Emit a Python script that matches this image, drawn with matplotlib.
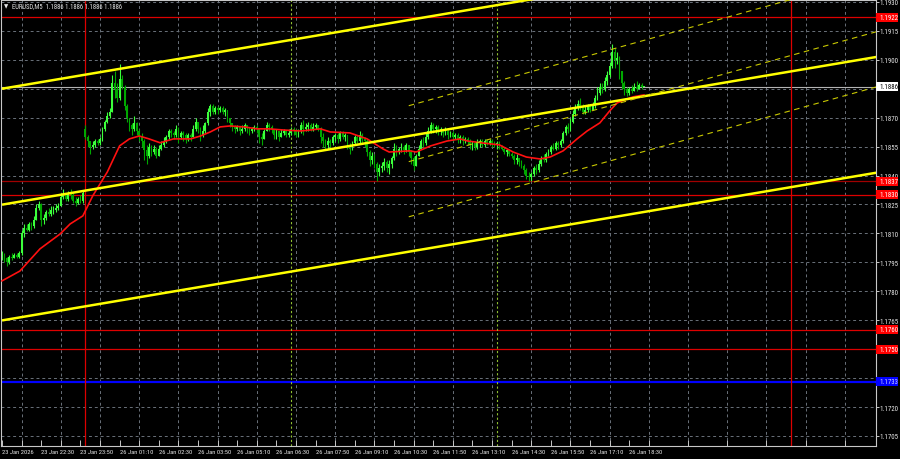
import os
import numpy as np
import matplotlib
matplotlib.use('Agg')
from matplotlib import pyplot as plt
from matplotlib import font_manager as fm
from matplotlib.font_manager import FontProperties
from matplotlib.patches import Rectangle
from matplotlib.textpath import TextPath
from matplotlib.transforms import blended_transform_factory

# EURUSD M5, prices kept as pips above 1.1800
base = 1.1800
title_txt = 'EURUSD,M5  1.1886 1.1886 1.1886 1.1886'

close_pips = [-1, -3, -5, -2, -3, -1, -2, 0, 10, 13,
              12, 15, 14, 17, 23, 25, 17, 18, 21, 20,
              22, 22, 23, 24, 29, 30, 28, 31, 30, 27,
              26, 28, 27, 31, 60, 58, 55, 56, 58, 57,
              59, 64, 68, 71, 73, 88, 85, 80, 90, 86,
              76, 70, 66, 64, 67, 63, 60, 58, 53, 50,
              55, 52, 54, 50, 54, 56, 58, 60, 63, 62,
              61, 64, 60, 62, 61, 59, 61, 60, 64, 68,
              64, 61, 63, 67, 73, 76, 73, 75, 74, 75,
              73, 74, 70, 67, 65, 64, 65, 63, 64, 66,
              65, 63, 64, 65, 64, 60, 59, 63, 66, 65,
              64, 61, 63, 60, 62, 63, 61, 62, 64, 63,
              61, 63, 66, 64, 65, 66, 64, 65, 66, 64,
              60, 58, 56, 58, 57, 60, 61, 59, 62, 60,
              61, 56, 54, 57, 60, 58, 61, 59, 58, 52,
              48, 50, 46, 42, 44, 45, 47, 44, 46, 49,
              54, 52, 54, 55, 53, 56, 52, 49, 45, 50,
              54, 58, 57, 60, 63, 66, 64, 65, 63, 64,
              62, 63, 61, 62, 60, 61, 59, 60, 58, 59,
              58, 56, 57, 55, 57, 58, 56, 58, 57, 58,
              57, 56, 57, 55, 54, 52, 53, 51, 50, 48,
              49, 47, 45, 43, 40, 39, 41, 44, 43, 46,
              49, 48, 51, 52, 55, 54, 57, 56, 58, 62,
              65, 64, 68, 72, 75, 77, 76, 73, 74, 76,
              74, 76, 80, 83, 86, 85, 89, 92, 97, 104,
              100, 101, 94, 88, 85, 83, 85, 84, 86, 85,
              87, 86, 86]

high_pips = [1, 0, -2, -1, 0, 0, 0, 1, 12, 15,
             15, 16, 16, 19, 25, 27, 26, 20, 22, 23,
             24, 24, 25, 26, 31, 33, 31, 32, 33, 31,
             29, 29, 30, 32, 66, 61, 58, 58, 59, 59,
             60, 65, 69, 73, 75, 92, 94, 88, 98, 92,
             87, 77, 70, 67, 71, 68, 64, 62, 59, 56,
             57, 56, 56, 55, 56, 58, 60, 61, 64, 64,
             63, 66, 65, 63, 63, 62, 62, 62, 66, 70,
             68, 65, 66, 68, 75, 77, 77, 76, 76, 76,
             76, 75, 74, 70, 67, 66, 66, 65, 66, 67,
             66, 65, 65, 66, 66, 64, 62, 64, 68, 67,
             66, 64, 64, 63, 64, 64, 63, 64, 65, 65,
             64, 64, 68, 69, 67, 68, 67, 67, 67, 66,
             65, 62, 59, 60, 59, 61, 62, 62, 63, 63,
             62, 61, 57, 58, 61, 61, 63, 62, 60, 59,
             53, 52, 51, 47, 46, 47, 49, 48, 48, 50,
             57, 56, 55, 57, 56, 57, 56, 53, 50, 51,
             56, 59, 60, 62, 65, 68, 67, 66, 66, 65,
             64, 65, 64, 63, 63, 62, 62, 61, 61, 60,
             60, 59, 58, 58, 59, 59, 59, 59, 59, 59,
             59, 58, 58, 58, 56, 55, 54, 54, 52, 51,
             51, 49, 48, 46, 44, 42, 42, 45, 46, 48,
             50, 51, 52, 54, 56, 57, 58, 58, 59, 63,
             66, 67, 70, 74, 77, 79, 80, 77, 76, 77,
             77, 78, 82, 86, 88, 88, 91, 94, 99, 108,
             106, 104, 102, 94, 89, 86, 86, 87, 88, 89,
             88, 88, 86]

low_pips = [-4, -5, -7, -6, -4, -3, -3, -3, -1, 8,
            11, 11, 12, 13, 17, 22, 14, 15, 17, 19,
            19, 20, 21, 22, 24, 28, 27, 27, 28, 26,
            24, 25, 26, 26, 59, 55, 51, 54, 55, 56,
            56, 58, 63, 67, 70, 73, 80, 78, 79, 85,
            74, 68, 63, 61, 63, 61, 58, 55, 48, 46,
            49, 50, 51, 49, 50, 53, 55, 57, 59, 60,
            59, 60, 57, 59, 58, 57, 58, 58, 60, 63,
            62, 58, 60, 62, 66, 71, 72, 72, 72, 73,
            72, 71, 68, 65, 63, 62, 63, 61, 62, 63,
            62, 61, 62, 63, 62, 57, 56, 59, 63, 63,
            62, 59, 59, 58, 60, 61, 60, 60, 61, 61,
            60, 60, 62, 61, 63, 63, 63, 63, 64, 63,
            57, 55, 53, 54, 55, 56, 58, 57, 58, 59,
            58, 54, 51, 53, 56, 57, 57, 57, 55, 50,
            45, 46, 44, 37, 40, 42, 43, 42, 41, 44,
            48, 50, 51, 52, 51, 52, 50, 46, 43, 45,
            50, 54, 55, 56, 59, 62, 62, 62, 61, 61,
            60, 61, 59, 60, 58, 59, 57, 57, 56, 57,
            56, 54, 53, 53, 54, 55, 55, 55, 56, 56,
            55, 55, 54, 54, 53, 51, 50, 50, 49, 46,
            46, 45, 44, 41, 38, 37, 37, 40, 41, 42,
            45, 47, 47, 50, 51, 53, 53, 54, 55, 57,
            61, 62, 63, 67, 71, 74, 74, 72, 72, 73,
            73, 74, 75, 79, 82, 83, 84, 87, 91, 96,
            96, 98, 90, 85, 82, 81, 82, 83, 84, 84,
            85, 85, 86]

# opens follow the previous close, except the first bar and the monday gap
open_fix = {0: -3, 34: 64}

# red moving average (bar index, pips)
ma_bar = [0, 7.3, 15.5, 23.7, 27.8, 33, 37, 43, 48, 52, 56, 60, 64.5, 70, 77,
          81, 85, 89, 93, 99, 104, 109, 115, 122, 130, 134, 142, 149, 155.5,
          158, 166.5, 169, 175, 181.6, 187, 190, 196, 203, 208.6, 214, 219.6,
          223.7, 229, 234.7, 238.8, 244, 248, 251, 255, 257.6, 262]
ma_pips = [-14.6, -9.5, 2.0, 9.7, 14.9, 19.1, 29.4, 41.9, 55.4, 59, 60.5, 59,
           57, 59, 59, 60.5, 62.6, 65.2, 65.7, 65.2, 64.2, 64.2, 63.6, 63.1,
           64.2, 62.6, 62.1, 59, 53.8, 52.2, 52.8, 52.2, 55.4, 57.9, 59, 57.9,
           56.9, 55.9, 52.2, 49.6, 48.6, 49.6, 52.8, 59, 63.1, 67.3, 73.5,
           77.6, 79.7, 80.8, 81.8]

tick_bars = [0, 16, 32, 48, 64, 80, 96, 112, 128, 144, 160, 176, 192, 208,
             224, 240, 256]
tick_labels = ['23 Jan 2026', '23 Jan 22:30', '23 Jan 23:50', '26 Jan 01:10',
               '26 Jan 02:30', '26 Jan 03:50', '26 Jan 05:10', '26 Jan 06:30',
               '26 Jan 07:50', '26 Jan 09:10', '26 Jan 10:30', '26 Jan 11:50',
               '26 Jan 13:10', '26 Jan 14:30', '26 Jan 15:50', '26 Jan 17:10',
               '26 Jan 18:30']
grid_bars = [8, 24, 40, 56, 72, 88, 104, 120, 136, 152, 168, 184, 200, 216,
             232, 248, 264, 280, 296, 312, 328, 344]

price_grid = [1.1705, 1.1720, 1.1735, 1.1750, 1.1765, 1.1780, 1.1795, 1.1810,
              1.1825, 1.1840, 1.1855, 1.1870, 1.1885, 1.1900, 1.1915, 1.1930]
hidden_grid_labels = [1.1750, 1.1885]

red_levels = [1.1922, 1.1837, 1.1830, 1.1760, 1.1750]
blue_level = 1.1733
last_price = 1.1886

day_sep_bars = [34, 322]
session_bars = [118, 202]

# trend channel (solid yellow) and regression channel (dashed)
chan_bars = [0, 357]
chan_upper = [1.18850, 1.19616]
chan_mid = [1.18249, 1.19015]
chan_low = [1.17649, 1.18415]
reg_bars = [166, 357]
reg_top = [1.18762, 1.19436]
reg_mid = [1.18472, 1.19146]
reg_bot = [1.18186, 1.18860]

# ---------------------------------------------------------------
# the terminal uses a narrow font, look for a condensed one
prefer = ['liberationsansnarrow-regular', 'robotocondensed-regular',
          'opensans-condensedregular', 'opensans_condensed-regular',
          'opensans-condensed-regular', 'notosans-condensed.',
          'notosans-condensedregular', 'dejavusanscondensed.']
font_files = [f.fname for f in fm.fontManager.ttflist]
pick = None
for key in prefer:
    for fn in font_files:
        if key in os.path.basename(fn).lower():
            pick = fn
            break
    if pick:
        break
font = FontProperties(fname=pick) if pick else FontProperties(family='Liberation Sans')


def fit_size(s, target_px, cap):
    w = TextPath((0, 0), s, size=10, prop=font).get_extents().width * 100 / 72
    return min(cap, 10 * target_px / w)


fs_y = fit_size('1.1930', 18, 6.5)
fs_x = fit_size('23 Jan 2026', 31, 6.5)
fs_t = fit_size(title_txt, 111, 6.5)
txt_col = '#e6e6e6'

c = base + np.array(close_pips) / 10000
h = base + np.array(high_pips) / 10000
l = base + np.array(low_pips) / 10000
o = np.r_[c[0], c[:-1]]
for k in open_fix:
    o[k] = base + open_fix[k] / 10000
h = np.maximum(h, np.maximum(o, c))
l = np.minimum(l, np.minimum(o, c))
idx = np.arange(len(c))

fig = plt.figure(figsize=(9, 4.6), dpi=100, facecolor='black')
ax = fig.add_axes([0.001, 13 / 460, 876 / 900 - 0.001, 446 / 460])
ax.set_facecolor('black')
ax.set_xlim(-0.45, 356.7)
ax.set_ylim(1.16998, 1.19310)

# grid
for gb in grid_bars:
    ax.axvline(gb, color='#6a717a', lw=0.7, ls=(0, (3, 3)), zorder=0)
for gp in price_grid:
    ax.axhline(gp, color='#6a717a', lw=0.7, ls=(0, (3, 3)), zorder=0)

# levels
for lv in red_levels:
    col = '#a00000' if lv == 1.1837 else '#dd0000'
    ax.axhline(lv, color=col, lw=0.9, zorder=1)
ax.axhline(blue_level, color='#0000ff', lw=1.6, zorder=1)
ax.axhline(last_price, color='#b4b4b4', lw=0.8, zorder=1)
for sb in day_sep_bars:
    ax.axvline(sb, color='#dd0000', lw=0.9, zorder=1)
for sb in session_bars:
    ax.axvline(sb, color='#8fbf2f', lw=0.8, ls=(0, (2, 2)), zorder=1)

# candles
up = c >= o
cols = np.where(up, '#3cff3c', '#00a800')
ax.vlines(idx, l, h, colors=cols, lw=0.8, zorder=2)
body = np.maximum(np.abs(c - o), 0.00003)
ax.bar(idx, body, bottom=np.minimum(o, c), width=0.72, color=cols, lw=0, zorder=2)

# moving average
ax.plot(ma_bar, base + np.array(ma_pips) / 10000, color='#ff1010', lw=1.2, zorder=3)

# channels
for line in (chan_upper, chan_mid, chan_low):
    ax.plot(chan_bars, line, color='#ffff00', lw=1.8, zorder=4, solid_capstyle='butt')
for line in (reg_top, reg_mid, reg_bot):
    ax.plot(reg_bars, line, color='#c8c800', lw=0.8, ls=(0, (5, 4)), zorder=4)

# axes look
for sp in ax.spines.values():
    sp.set_color('#c8c8c8')
    sp.set_linewidth(0.8)
ax.yaxis.tick_right()
ax.set_yticks(price_grid)
ax.set_yticklabels(['' if p in hidden_grid_labels else f'{p:.4f}' for p in price_grid])
ax.tick_params(axis='y', colors='#c8c8c8', labelcolor=txt_col,
               length=2, width=0.7, pad=0.8, direction='out')
for lab in ax.get_yticklabels():
    lab.set_fontproperties(font)
    lab.set_fontsize(fs_y)
ax.set_xticks(tick_bars)
ax.set_xticklabels(tick_labels, ha='left')
ax.set_xticks(grid_bars, minor=True)
ax.tick_params(axis='x', which='both', colors='#c8c8c8', labelcolor=txt_col,
               length=4, width=0.7, pad=2, direction='in')
for lab in ax.get_xticklabels():
    lab.set_fontproperties(font)
    lab.set_fontsize(fs_x)

# price boxes on the right scale (22 px wide, 8 px tall)
tr = blended_transform_factory(ax.transAxes, ax.transData)
px_x = 1 / 875
px_y = (1.19310 - 1.16998) / 446
box_specs = [(lv, '#ff0000', 'white') for lv in red_levels]
box_specs += [(blue_level, '#0000ff', '#d0d0ff'), (last_price, 'white', 'black')]
for lv, fc, tc in box_specs:
    ax.add_patch(Rectangle((1.0, lv - 4.5 * px_y), 22 * px_x, 9 * px_y, transform=tr,
                           fc=fc, ec='none', zorder=9, clip_on=False))
    ax.text(1 + 3 * px_x, lv, f'{lv:.4f}', transform=tr, ha='left', va='center',
            fontproperties=font, fontsize=fs_y, color=tc, zorder=10, clip_on=False)

# symbol caption
fig.text(4 / 900, 1 - 7 / 460, '\u25bc', fontsize=4, color=txt_col, va='center',
         family='DejaVu Sans')
fig.text(12 / 900, 1 - 7 / 460, title_txt, fontproperties=font, fontsize=fs_t,
         color=txt_col, va='center')

fig.savefig('out.png', dpi=100, facecolor='black')
